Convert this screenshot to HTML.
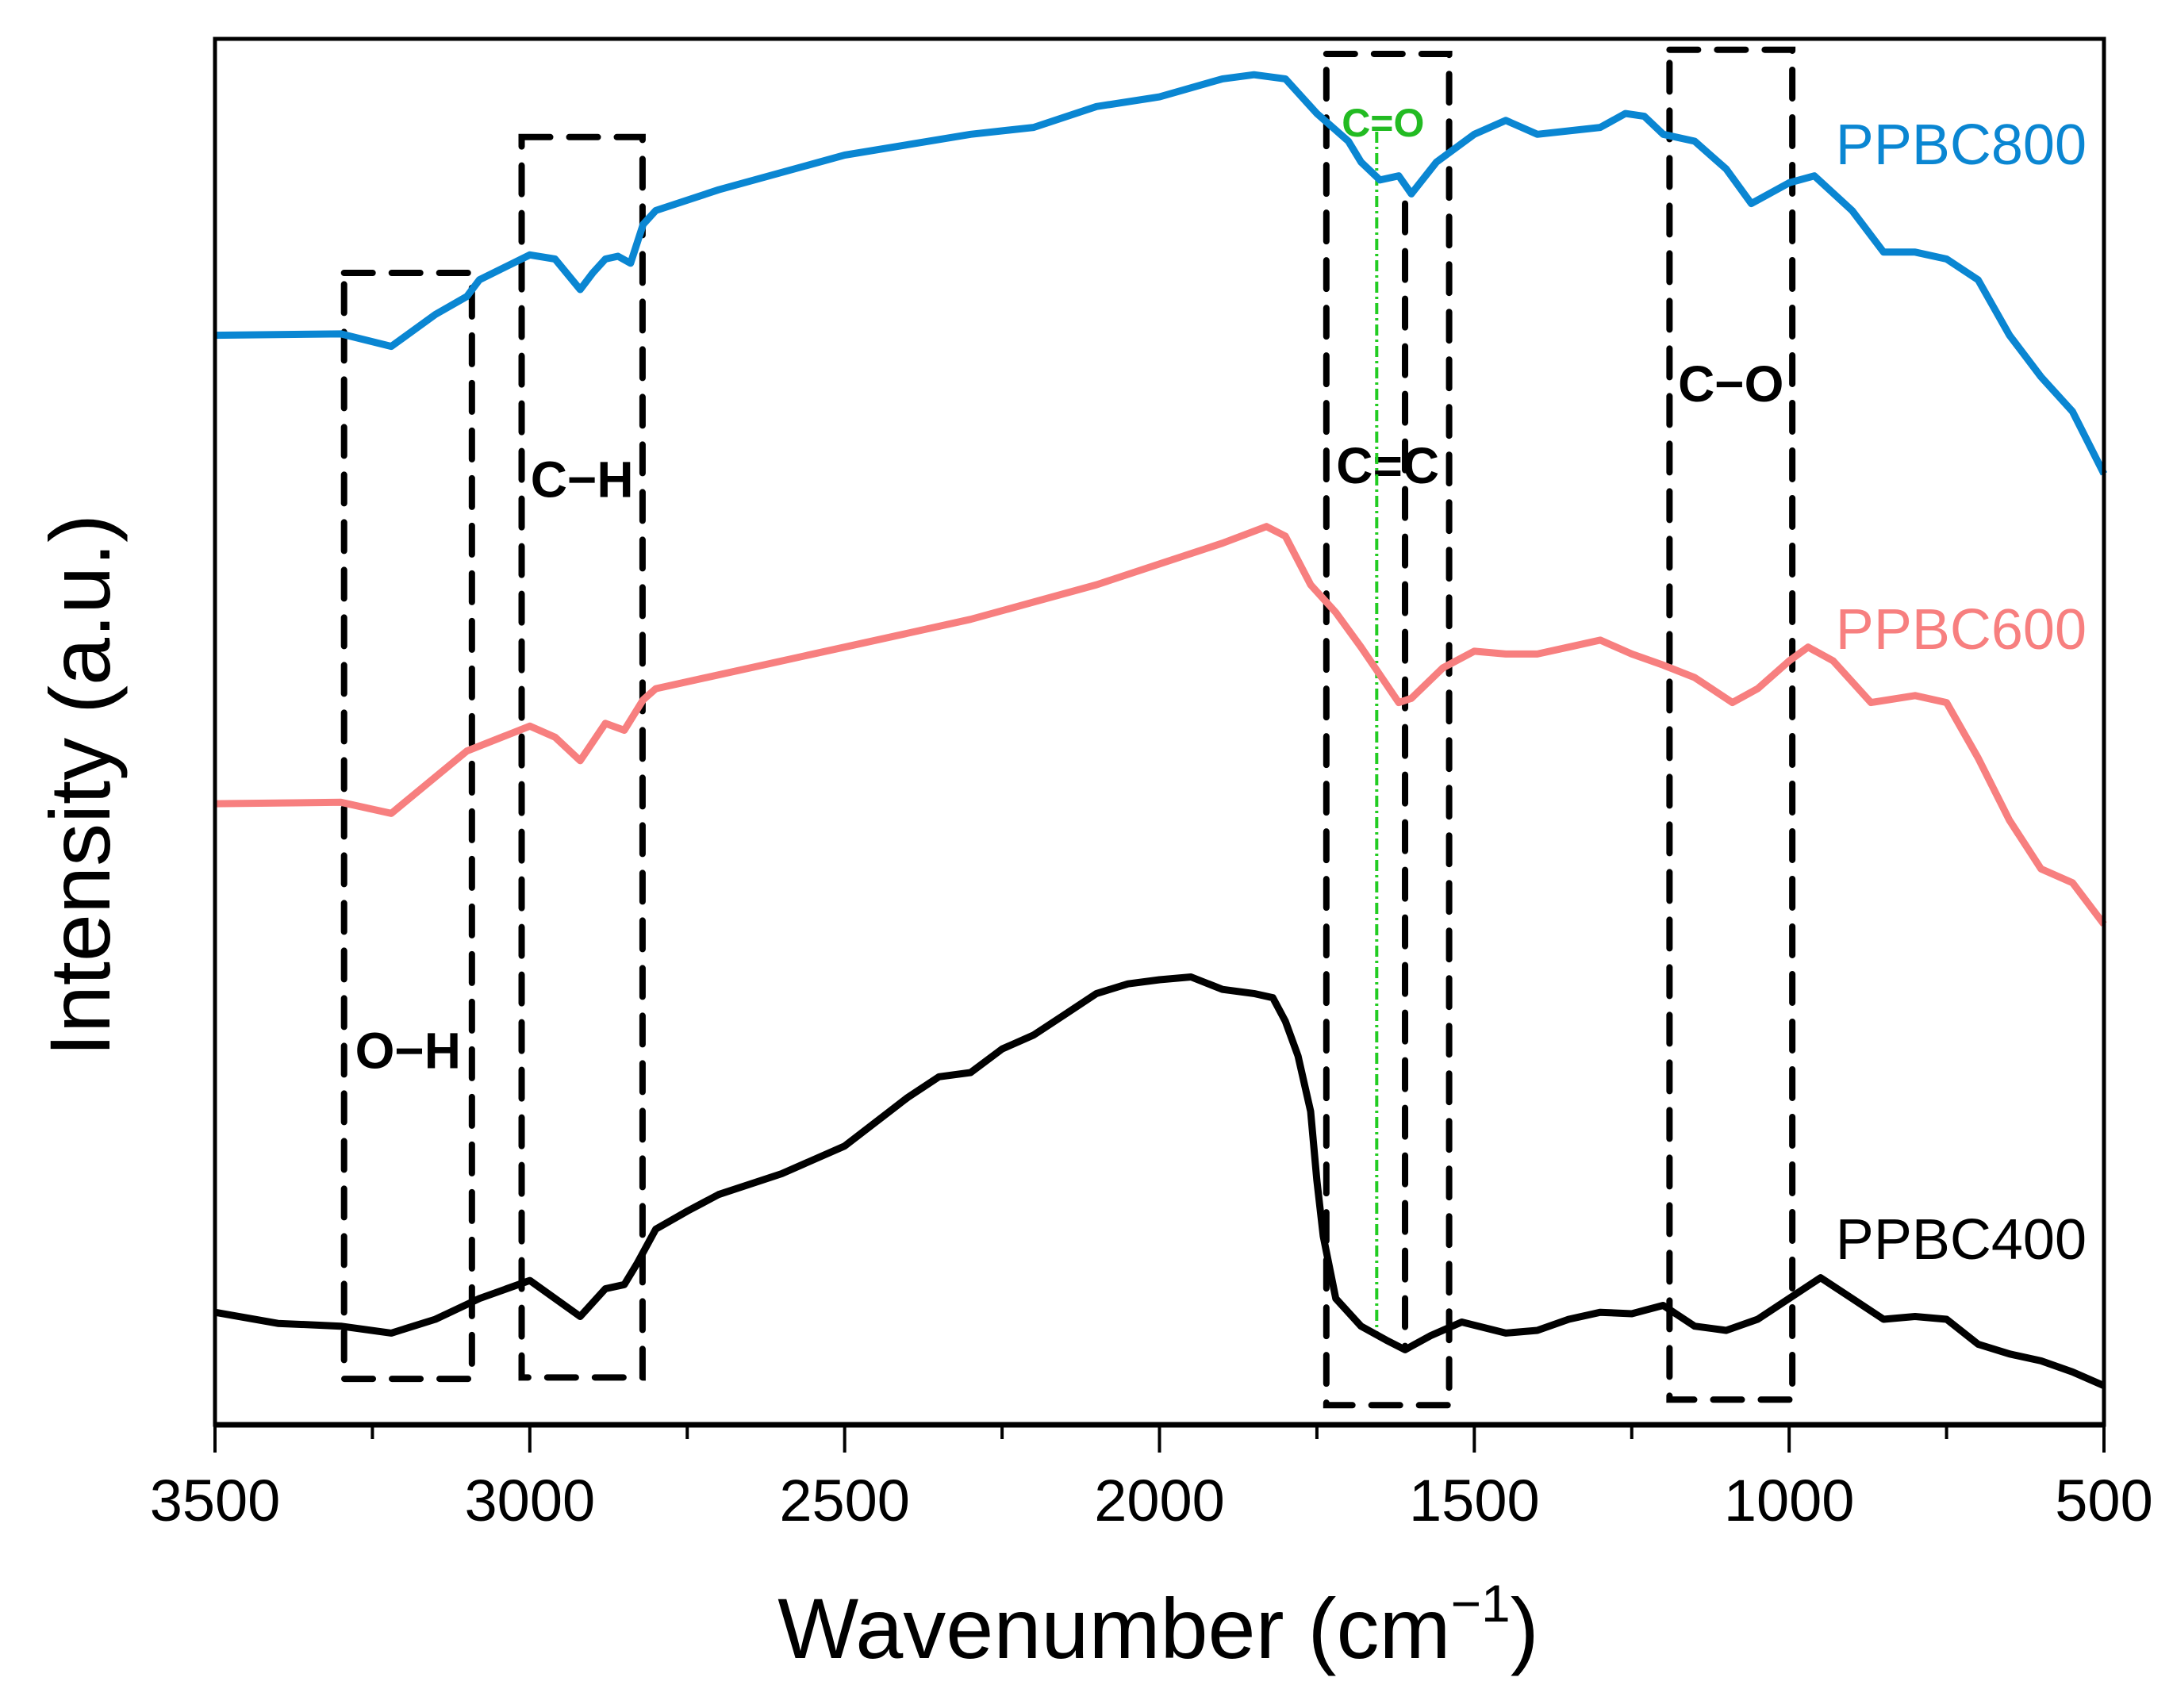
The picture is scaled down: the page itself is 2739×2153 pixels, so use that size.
<!DOCTYPE html>
<html><head><meta charset="utf-8"><style>
html,body{margin:0;padding:0;background:#fff;}
svg{display:block;font-family:"Liberation Sans",Arial,sans-serif;}
</style></head><body>
<svg id="chart" width="2739" height="2153" viewBox="0 0 2739 2153" xmlns="http://www.w3.org/2000/svg">
<rect width="2739" height="2153" fill="#fff"/>
<g id="boxes"></g>
<g id="series"></g>
<g id="axes"></g>
</svg>
<script>
const xTicks = [3500,3000,2500,2000,1500,1000,500];
const xMinor = [3250,2750,2250,1750,1250,750];
const w800 = [3500,3300,3220,3150,3100,3080,3000,2960,2920,2900,2880,2860,2840,2820,2800,2700,2500,2300,2200,2100,2000,1900,1850,1800,1750,1700,1680,1650,1620,1600,1560,1500,1450,1400,1300,1260,1230,1200,1150,1100,1060,1000,960,900,850,800,750,700,650,600,550,500];
const v800 = [785,786,777,800,813,825,843,840,818,830,840,842,837,865,875,890,915,930,935,950,957,970,973,970,945,925,910,897,900,887,910,930,940,930,935,945,943,930,925,905,880,895,900,875,845,845,840,825,785,755,730,685];
const w600 = [3500,3300,3220,3100,3000,2960,2920,2880,2850,2820,2800,2500,2300,2100,2000,1900,1830,1800,1760,1720,1680,1650,1620,1600,1550,1500,1450,1400,1350,1300,1250,1200,1150,1090,1050,1000,970,930,870,800,750,700,650,600,550,500];
const v600 = [447,448,440,485,503,495,478,505,500,522,530,560,580,605,620,635,647,640,605,585,560,540,520,523,545,557,555,555,560,565,555,547,538,520,530,550,560,550,520,525,520,480,435,400,390,360];
const w400 = [3500,3400,3300,3220,3150,3080,3000,2960,2920,2880,2850,2830,2800,2750,2700,2600,2500,2400,2350,2300,2250,2200,2150,2100,2050,2000,1950,1900,1850,1820,1800,1780,1760,1750,1740,1720,1680,1640,1610,1570,1520,1450,1400,1350,1300,1250,1200,1150,1100,1050,1000,950,900,850,800,750,700,650,600,550,500];
const v400 = [80,72,70,65,75,90,103,90,77,97,100,115,140,153,165,180,200,235,250,253,270,280,295,310,317,320,322,313,310,307,290,265,225,175,135,90,70,60,53,63,73,65,67,75,80,79,85,70,67,75,90,105,90,75,77,75,57,50,45,37,27];
const boxLabels = ["O\u2212H","C\u2212H","C=C","C\u2212O"];
const boxW1 = [3295,3013,1735,1190];
const boxW2 = [3092,2821,1540,995];
const boxTop = [830,928,988,991];
const boxBot = [32,33,13,17];

const NS="http://www.w3.org/2000/svg";
const L=271,R=2652,T=49,B=1796;
function xS(w){return L+(3500-w)/3000*(R-L);}
function yS(v){return 1794-v*1.747;}
function mk(tag,attrs,parent){const e=document.createElementNS(NS,tag);for(const k in attrs)e.setAttribute(k,attrs[k]);parent.appendChild(e);return e;}

const boxes=document.getElementById('boxes');
const labY=[757,345,335,276];
for(let i=0;i<boxLabels.length;i++){
  const x1=xS(boxW1[i]),x2=xS(boxW2[i]),y1=yS(boxTop[i]),y2=yS(boxBot[i]);
  const r=mk('rect',{x:x1,y:y1,width:x2-x1,height:y2-y1,fill:'none',stroke:'#000','stroke-width':8,'stroke-dasharray':'36 24','stroke-linecap':'round'},boxes);
  
  
  const t=mk('text',{x:(x1+x2)/2,y:labY[i]*1.747+24,'font-size':64,'font-weight':'bold','text-anchor':'middle',fill:'#000'},boxes);
  t.textContent=boxLabels[i];
  
  
}
const cx=xS(1610);
const cl=mk('line',{x1:cx,y1:yS(880),x2:cx,y2:yS(55),stroke:'#000','stroke-width':8,'stroke-dasharray':'36 24','stroke-linecap':'round'},boxes);


const gx=xS(1655);
const gl=mk('line',{x1:gx,y1:166,x2:gx,y2:1686,stroke:'#22cc22','stroke-width':4,'stroke-dasharray':'14 5 3 5'},boxes);


const gt=mk('text',{x:gx+8,y:172,'font-size':50,'font-weight':'bold','text-anchor':'middle',fill:'#22bb22'},boxes);
gt.textContent='C=O';



const series=document.getElementById('series');
const sets=[[w800,v800,'#0a86d2','PPBC800',182],[w600,v600,'#f77f7f','PPBC600',793],[w400,v400,'#000','PPBC400',1562]];
sets.forEach((s,i)=>{
  const d=s[0].map((w,j)=>(j?'L':'M')+xS(w).toFixed(1)+' '+yS(s[1][j]).toFixed(1)).join(' ');
  const p=mk('path',{d:d,fill:'none',stroke:s[2],'stroke-width':9,'stroke-linejoin':'round'},series);
  
  
  const t=mk('text',{x:2630,y:s[4]+25,'font-size':72,'text-anchor':'end',fill:s[2]},series);
  t.textContent=s[3];
  
  
});

const axes=document.getElementById('axes');
const fr=mk('rect',{x:L,y:T,width:R-L,height:B-T,fill:'none',stroke:'#000','stroke-width':5},axes);


const ba=mk('line',{x1:L,y1:B,x2:R,y2:B,stroke:'#000','stroke-width':7},axes);


xTicks.forEach(w=>{
  const x=xS(w);
  const tk=mk('line',{x1:x,y1:B,x2:x,y2:B+35,stroke:'#000','stroke-width':4},axes);
  
  
  const t=mk('text',{x:x,y:1917,'font-size':74,'text-anchor':'middle',fill:'#000'},axes);
  t.textContent=w;
  
  
});
xMinor.forEach(w=>{
  const x=xS(w);
  const tk=mk('line',{x1:x,y1:B,x2:x,y2:B+18,stroke:'#000','stroke-width':4},axes);
  
  
});
const xt=mk('text',{x:1460,y:2090,'font-size':108,'text-anchor':'middle',fill:'#000'},axes);
xt.innerHTML='Wavenumber (cm<tspan font-size="66" dy="-46">\u22121</tspan><tspan dy="46">)</tspan>';


const yt=mk('text',{x:0,y:0,'font-size':108,'text-anchor':'middle',fill:'#000',transform:'translate(138 990) rotate(-90)'},axes);
yt.textContent='Intensity (a.u.)';


</script>
</body></html>
